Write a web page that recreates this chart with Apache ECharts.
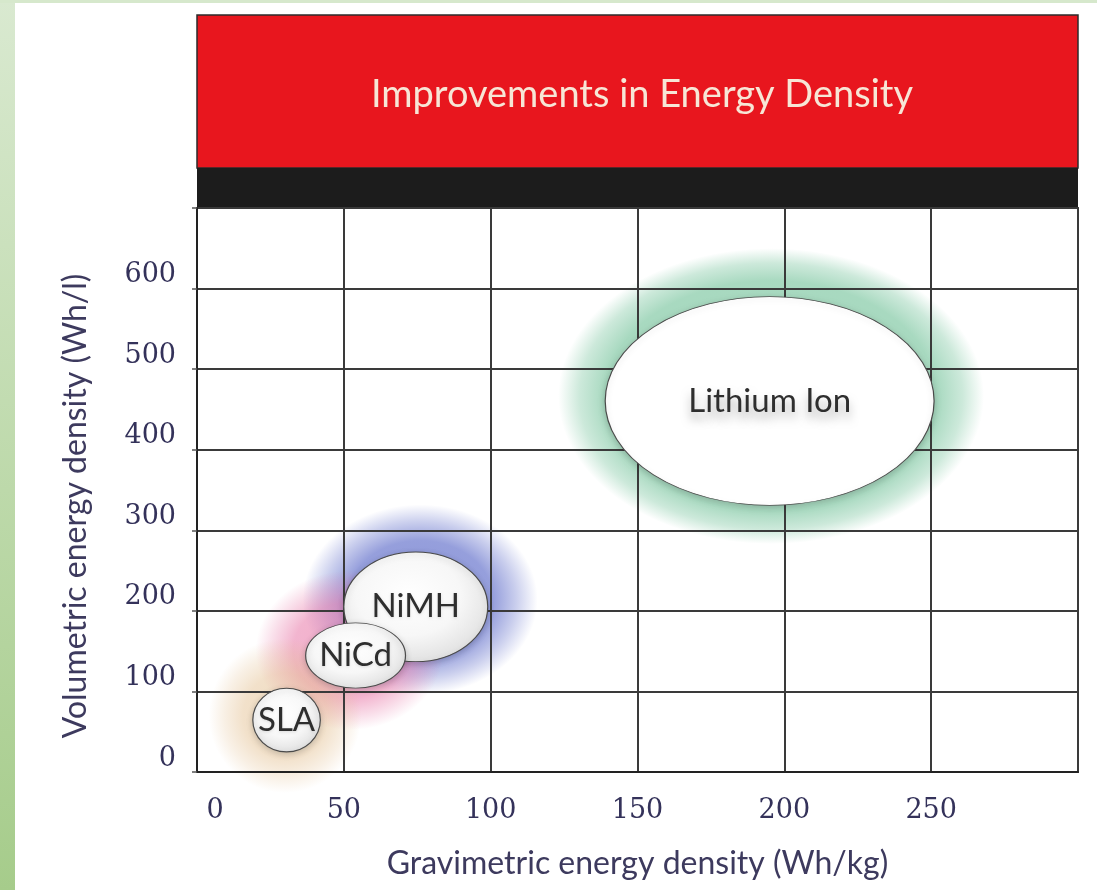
<!DOCTYPE html>
<html><head><meta charset="utf-8">
<script src="https://cdn.jsdelivr.net/npm/echarts@6/dist/echarts.min.js"></script>
<style>html,body{margin:0;padding:0;background:#fff}#c{width:1097px;height:890px}</style>
</head><body><div id="c"></div>
<script>
// ---- data ----
const chartTitle = 'Improvements in Energy Density';
const xAxisName = 'Gravimetric energy density (Wh/kg)';
const yAxisName = 'Volumetric energy density (Wh/l)';
const xTickLabels = ['0', '50', '100', '150', '200', '250'];
const yTickLabels = ['0', '100', '200', '300', '400', '500', '600'];
const xMin = 0, xMax = 300, xStep = 50;
const yMin = 0, yMax = 700, yStep = 100;

const chemistries = ['Lithium Ion', 'NiMH', 'NiCd', 'SLA'];
// typical range (white ellipse)
const gravLow  = [139, 50, 37, 19];
const gravHigh = [251, 99, 71, 42];
const volLow   = [331, 137, 104, 25];
const volHigh  = [590, 273, 185, 104];
// extended range (coloured halo)
const haloGravLow  = [123, 36, 20, 4];
const haloGravHigh = [268, 116, 84, 56];
const haloVolLow   = [283, 96, 52, -26];
const haloVolHigh  = [650, 332, 250, 166];

// ---- styles ----
const haloRGB = ['110,192,150', '105,118,205', '232,120,168', '226,188,138'];
const haloStops = [
  [[0, 0.62], [0.78, 0.6], [0.9, 0.35], [1, 0]],
  [[0, 0.78], [0.62, 0.7], [0.82, 0.35], [1, 0]],
  [[0, 0.62], [0.6, 0.55], [0.82, 0.25], [1, 0]],
  [[0, 0.55], [0.55, 0.45], [0.8, 0.22], [1, 0]]
];
const tickColor = '#34325a';

const ellipseData = chemistries.map((n, i) => ({
  name: n,
  value: [(gravLow[i] + gravHigh[i]) / 2, (volLow[i] + volHigh[i]) / 2,
          (gravHigh[i] - gravLow[i]) / 2, (volHigh[i] - volLow[i]) / 2]
}));
const haloData = chemistries.map((n, i) => ({
  name: n,
  value: [(haloGravLow[i] + haloGravHigh[i]) / 2, (haloVolLow[i] + haloVolHigh[i]) / 2,
          (haloGravHigh[i] - haloGravLow[i]) / 2, (haloVolHigh[i] - haloVolLow[i]) / 2]
}));

function haloItem(params, api) {
  const c = api.coord([api.value(0), api.value(1)]);
  const s = api.size([api.value(2), api.value(3)]);
  const rgb = haloRGB[params.dataIndex];
  return {
    type: 'circle', x: c[0], y: c[1], scaleY: s[1] / s[0],
    shape: { cx: 0, cy: 0, r: s[0] },
    style: { fill: { type: 'radial', x: 0.5, y: 0.5, r: 0.5,
      colorStops: haloStops[params.dataIndex].map(st => ({ offset: st[0], color: 'rgba(' + rgb + ',' + st[1] + ')' })) } }
  };
}
function ellipseItem(params, api) {
  const i = params.dataIndex;
  const c = api.coord([api.value(0), api.value(1)]);
  const s = api.size([api.value(2), api.value(3)]);
  const big = i === 0;
  return {
    type: 'group',
    children: [
      { type: 'circle', x: c[0], y: c[1], scaleY: s[1] / s[0],
        shape: { cx: 0, cy: 0, r: s[0] },
        style: { fill: big ? '#ffffff' : { type: 'radial', x: 0.45, y: 0.4, r: 0.6, colorStops: [
            { offset: 0, color: '#ffffff' }, { offset: 0.6, color: '#f7f7f7' }, { offset: 1, color: '#e2e2e2' }] },
          stroke: '#4a4a4a', lineWidth: 1.2, strokeNoScale: true,
          shadowBlur: 6, shadowColor: 'rgba(0,0,0,0.18)', shadowOffsetY: 2 } },
      { type: 'text', x: c[0], y: c[1],
        style: { text: chemistries[i], x: 0, y: 0, align: 'center', verticalAlign: 'middle',
          fontFamily: 'Lato', fontSize: 33, fill: '#2e2e2e',
          textShadowColor: big ? 'rgba(0,0,0,0.3)' : 'rgba(0,0,0,0.12)', textShadowBlur: big ? 10 : 3, textShadowOffsetY: big ? 7 : 1 } }
    ]
  };
}

const chart = echarts.init(document.getElementById('c'));
chart.setOption({
  backgroundColor: '#ffffff',
  animation: false,
  title: {
    text: chartTitle, left: 637, top: 71, textAlign: 'center',
    textStyle: { color: '#f7e6d6', fontFamily: 'Lato', fontSize: 38, fontWeight: 'normal' }
  },
  graphic: [
    { type: 'rect', z: -10, shape: { x: 0, y: 0, width: 15, height: 890 },
      style: { fill: { type: 'linear', x: 0, y: 0, x2: 0, y2: 1, colorStops: [
        { offset: 0, color: '#d9e9d0' }, { offset: 1, color: '#a6cc8b' }] } } },
    { type: 'rect', z: -10, shape: { x: 0, y: 0, width: 1097, height: 3 }, style: { fill: '#d6e8cc' } },
    { type: 'rect', shape: { x: 197, y: 15, width: 881, height: 153 },
      style: { fill: '#e8161e', stroke: '#2b2b2b', lineWidth: 1.5 } },
    { type: 'rect', shape: { x: 197, y: 168, width: 881, height: 40 },
      style: { fill: '#1c1c1c' } }
  ],
  grid: { left: 197, right: 19, top: 208, bottom: 118, show: true, borderColor: '#444', borderWidth: 2 },
  xAxis: {
    type: 'value', min: xMin, max: xMax, interval: xStep, z: 2,
    name: xAxisName, nameLocation: 'middle', nameGap: 76,
    nameTextStyle: { fontFamily: 'Lato', fontSize: 32, color: '#3d3a5e' },
    axisLine: { show: true, lineStyle: { color: '#222', width: 2 } },
    axisTick: { show: false },
    axisLabel: {
      margin: 25, fontFamily: 'DejaVu Serif', fontSize: 27, color: tickColor,
      formatter: v => { const t = String(v); if (!xTickLabels.includes(t)) return ''; return v === 0 ? '{z|' + t + '}' : t; },
      rich: { z: { padding: [0, 0, 0, 36], fontFamily: 'DejaVu Serif', fontSize: 27, color: tickColor } }
    },
    splitLine: { show: true, lineStyle: { color: '#3a3a3a', width: 2 } }
  },
  yAxis: {
    type: 'value', min: yMin, max: yMax, interval: yStep, z: 2,
    name: yAxisName, nameLocation: 'middle', nameGap: 105,
    nameTextStyle: { fontFamily: 'Lato', fontSize: 32, color: '#3d3a5e', padding: [0, 32, 0, 0] },
    axisLine: { show: true, lineStyle: { color: '#222', width: 2 } },
    axisTick: { show: true, length: 5, lineStyle: { color: '#555', width: 1.5 } },
    axisLabel: {
      margin: 21, fontFamily: 'DejaVu Serif', fontSize: 27, color: tickColor, verticalAlign: 'bottom', lineHeight: 27,
      formatter: v => { const t = String(v); return yTickLabels.includes(t) ? t : ''; }
    },
    splitLine: { show: true, lineStyle: { color: '#3a3a3a', width: 2 } }
  },
  series: [
    { type: 'custom', name: 'halo', z: 1, silent: true, renderItem: haloItem,
      encode: { x: 0, y: 1 }, data: haloData },
    { type: 'custom', name: 'range', z: 5, silent: true, renderItem: ellipseItem,
      encode: { x: 0, y: 1 }, data: ellipseData }
  ]
});
</script></body></html>
